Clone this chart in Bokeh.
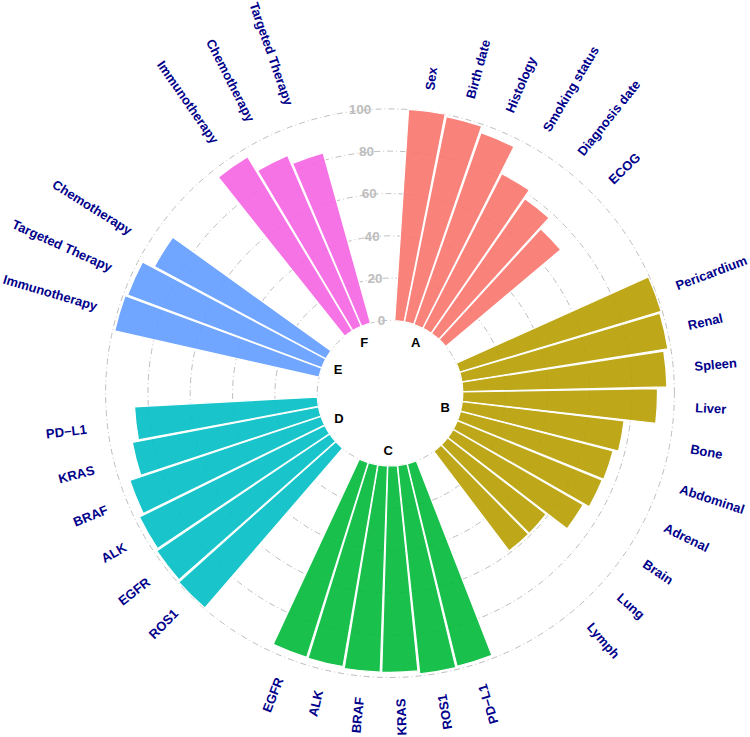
import math
from bokeh.plotting import figure
from bokeh.models import Range1d
from bokeh.embed import file_html
from bokeh.resources import INLINE
from bokeh.core.properties import value

# ---------------- data ----------------
groups = ["A", "B", "C", "D", "E", "F"]

labels_A = ["Sex", "Birth date", "Histology", "Smoking status", "Diagnosis date", "ECOG"]
values_A = [100, 99, 96, 82, 77.5, 71]

labels_B = ["Pericardium", "Renal", "Spleen", "Liver", "Bone", "Abdominal",
            "Adrenal", "Brain", "Lung", "Lymph"]
values_B = [99.5, 98.6, 96.5, 92, 77, 74.5, 74, 71, 59, 59]

labels_C = ["PD\u2212L1", "ROS1", "KRAS", "BRAF", "ALK", "EGFR"]
values_C = [98.5, 99, 97.5, 97.5, 96.7, 96.5]

labels_D = ["ROS1", "EGFR", "ALK", "BRAF", "KRAS", "PD\u2212L1"]
values_D = [99.6, 98.7, 97.7, 95.3, 89.6, 86.5]

labels_E = ["Immunotherapy", "Targeted Therapy", "Chemotherapy"]
values_E = [99, 98, 92]

labels_F = ["Immunotherapy", "Chemotherapy", "Targeted Therapy"]
values_F = [96, 88, 83.5]

group_labels = [labels_A, labels_B, labels_C, labels_D, labels_E, labels_F]
group_values = [values_A, values_B, values_C, values_D, values_E, values_F]
colors = ["#F8766D", "#B79F00", "#00BA38", "#00BFC4", "#619CFF", "#F564E3"]

tick_values = [0, 20, 40, 60, 80, 100]
tick_labels = ["0", "20", "40", "60", "80", "100"]

# ---------------- layout constants ----------------
EMPTY = 2          # empty slots after each group
START_DEG = 3.6    # clockwise from 12 o'clock
SLOT_DEG = 7.75
WIDTH_FRAC = 0.96
HOLE = 34.4        # inner hole in value units
LABEL_R = 110
GROUP_LABEL_R = 26.9
PX = 2.116         # pixels per value unit
W, H = 750, 737
CX, CY = 389.5, 392.7

FONT = "Liberation Sans"

p = figure(width=W, height=H,
           x_range=Range1d(-CX / PX, (W - CX) / PX),
           y_range=Range1d(-(H - CY) / PX, CY / PX),
           output_backend="svg", toolbar_location=None,
           x_axis_type=None, y_axis_type=None, min_border=0)
p.grid.visible = False
p.outline_line_color = None
p.background_fill_color = "white"
p.border_fill_color = "white"

# grid circles
for t in tick_values:
    p.arc(x=0, y=0, radius=HOLE + t, start_angle=0, end_angle=2 * math.pi,
          line_color="#BEBEBE", line_width=1, line_dash="6 3 1 3")

def to_math(theta_deg):
    return math.radians(90 - theta_deg)

slot = 0
for gi, (labs, vals) in enumerate(zip(group_labels, group_values)):
    starts, ends, outers, lx, ly, la, ltxt, lalign = [], [], [], [], [], [], [], []
    first_slot = slot
    for lab, v in zip(labs, vals):
        th1 = START_DEG + slot * SLOT_DEG + (1 - WIDTH_FRAC) / 2 * SLOT_DEG
        th2 = th1 + WIDTH_FRAC * SLOT_DEG
        thc = START_DEG + (slot + 0.5) * SLOT_DEG
        starts.append(to_math(th2))
        ends.append(to_math(th1))
        outers.append(HOLE + v)
        r = HOLE + LABEL_R
        phi = to_math(thc)
        lx.append(r * math.cos(phi))
        ly.append(r * math.sin(phi))
        if 155 < thc < 360:
            la.append(phi + math.pi)
            lalign.append("right")
        else:
            la.append(phi)
            lalign.append("left")
        ltxt.append(lab)
        slot += 1
    p.annular_wedge(x=0, y=0, inner_radius=HOLE, outer_radius=outers,
                    start_angle=starts, end_angle=ends, direction="anticlock",
                    fill_color=colors[gi], fill_alpha=0.9,
                    line_color="white", line_width=1.2)
    for x, y, a, t, al in zip(lx, ly, la, ltxt, lalign):
        p.text(x=[x], y=[y], text=[t], angle=a, text_align=al,
               text_baseline="middle", text_color="#00008B",
               text_font=value(FONT), text_font_style="bold",
               text_font_size="13px")
    # group label
    gc = START_DEG + (first_slot + len(vals) / 2) * SLOT_DEG
    phi = to_math(gc)
    p.text(x=[GROUP_LABEL_R * math.cos(phi)], y=[GROUP_LABEL_R * math.sin(phi)],
           text=[groups[gi]], text_align="center", text_baseline="middle",
           text_color="black", text_font=value(FONT), text_font_style="bold",
           text_font_size="13px")
    slot += EMPTY

# scale labels
scale_theta = START_DEG + (slot - 0.5) * SLOT_DEG - 360
phi = to_math(scale_theta)
p.text(x=[(HOLE + t) * math.cos(phi) for t in tick_values],
       y=[(HOLE + t) * math.sin(phi) for t in tick_values],
       text=tick_labels, text_align="right", text_baseline="middle",
       text_color="#BEBEBE", text_font=value(FONT), text_font_style="bold",
       text_font_size="13.5px")

open("out.html", "w").write(file_html(p, INLINE))
